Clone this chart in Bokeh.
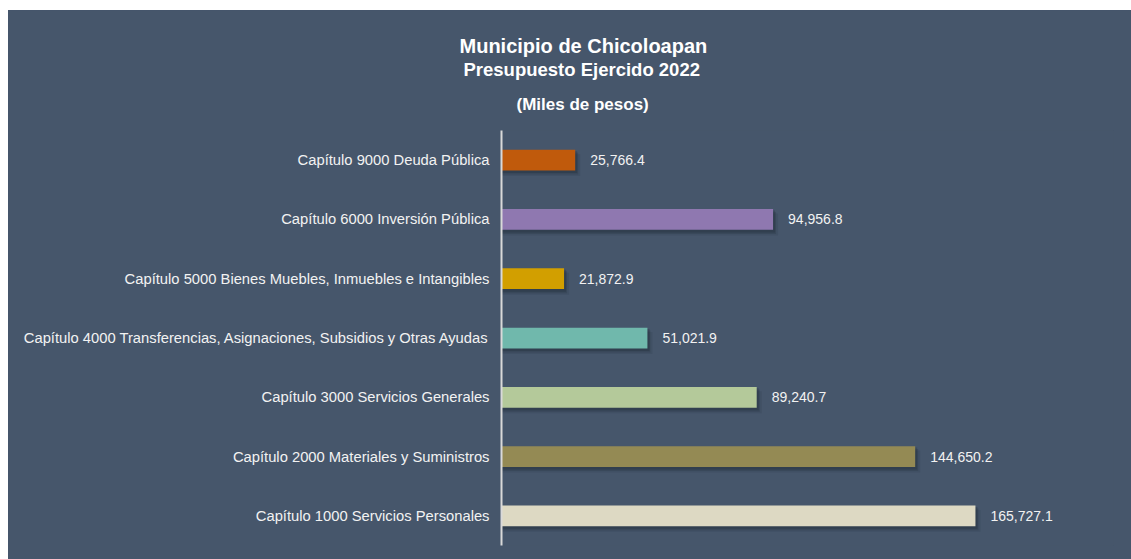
from bokeh.plotting import figure
from bokeh.models import FactorRange, Range1d, ColumnDataSource, Title
from bokeh.transform import dodge
from bokeh.core.properties import value
from bokeh.embed import file_html
from bokeh.resources import INLINE

categories = [
    "Capítulo 1000 Servicios Personales",
    "Capítulo 2000 Materiales y Suministros",
    "Capítulo 3000 Servicios Generales",
    "Capítulo 4000 Transferencias, Asignaciones, Subsidios y Otras Ayudas",
    "Capítulo 5000 Bienes Muebles, Inmuebles e Intangibles",
    "Capítulo 6000 Inversión Pública",
    "Capítulo 9000 Deuda Pública",
]
values = [165727.1, 144650.2, 89240.7, 51021.9, 21872.9, 94956.8, 25766.4]
colors = ["#ddd9c3", "#948a54", "#b4c99a", "#70b8ac", "#d29f00", "#8f78b0", "#c05a0c"]
labels = [f"{v:,.1f}" for v in values]
title_lines = ["Municipio de Chicoloapan", "Presupuesto Ejercido 2022", "(Miles de pesos)"]

BG = "#46566b"
FONT = "Liberation Sans"
W, H = 1123, 549

PX = 214000 / 612.0  # data units per pixel
src = ColumnDataSource(dict(cat=categories, val=values, color=colors, label=labels))
for dx in (2, 3, 5):
    src.data[f"s{dx}"] = [v + dx * PX for v in values]

p = figure(width=W, height=H, y_range=FactorRange(*categories),
           x_range=Range1d(0, 214000), output_backend="svg", toolbar_location=None,
           background_fill_color=BG, border_fill_color=BG, outline_line_color=None,
           min_border_left=493, min_border_top=120, min_border_bottom=14, min_border_right=18)
p.outline_line_color = None
p.styles = {"background-color": BG}
p.margin = (10, 0, 0, 8)

for dx, dy, a in [(5, 5, 0.10), (3, 3.5, 0.16), (2, 2, 0.22)]:
    p.hbar(y=dodge("cat", -dy / 59.3, range=p.y_range), left=0, right=f"s{dx}",
           height=0.37, source=src, fill_color="#18202b", fill_alpha=a,
           line_color=None)
p.hbar(y="cat", left=0, right="val", height=0.35, source=src,
       fill_color="color", line_color=None)

p.text(x="val", y="cat", text="label", source=src, x_offset=15,
       text_baseline="middle", text_align="left", text_color="#f2f2f2",
       text_font=value(FONT), text_font_size="14px")

p.xaxis.visible = False
p.xgrid.visible = False
p.ygrid.visible = False
yax = p.yaxis[0]
yax.axis_line_color = "#d9d9d9"
yax.axis_line_width = 2
yax.major_tick_line_color = None
yax.minor_tick_line_color = None
yax.major_tick_out = 0
yax.major_label_standoff = 12
yax.major_label_text_color = "#f2f2f2"
yax.major_label_text_font = FONT
yax.major_label_text_font_size = "14.75px"

sizes = ["20px", "18.5px", "17px"]
offsets = [-42, -38, 15]
for i, (txt, s, off) in enumerate(reversed(list(zip(title_lines, sizes, offsets)))):
    tt = Title(text=txt, align="left", offset=off, text_color="#ffffff",
               text_font=FONT, text_font_style="bold", text_font_size=s)
    if i == 0:
        tt.vertical_align = "top"
        try:
            tt.standoff = 30
        except Exception:
            pass
    else:
        try:
            tt.standoff = 0
        except Exception:
            pass
    p.add_layout(tt, "above")

open("out.html", "w").write(file_html(p, INLINE))
